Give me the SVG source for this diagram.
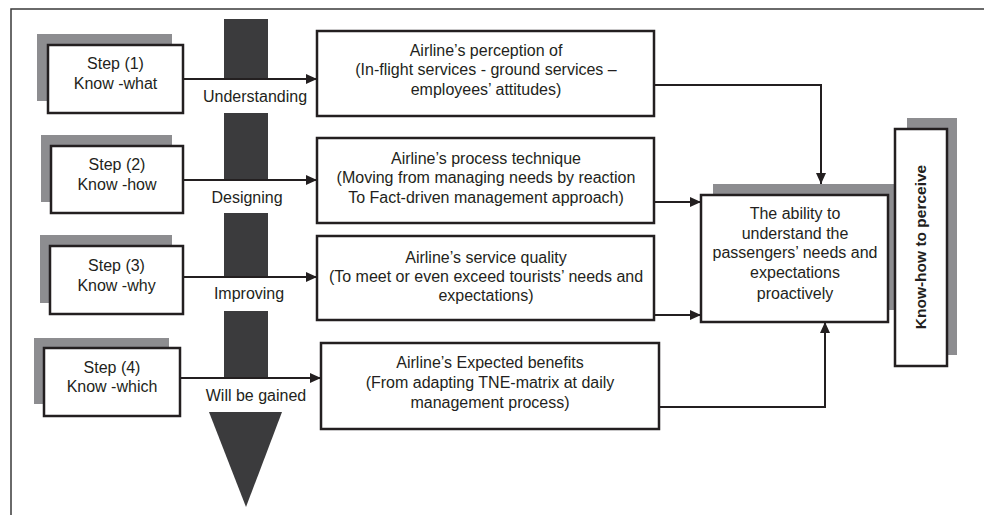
<svg xmlns="http://www.w3.org/2000/svg" width="984" height="515" viewBox="0 0 984 515">
<style>
.box{fill:#fff;stroke:#231f20;stroke-width:2.5}
.sh{fill:#8d8d90}
.bar{fill:#3b3b3d}
.ln{fill:none;stroke:#231f20;stroke-width:2}
text{font-family:"Liberation Sans",Arial,sans-serif;font-size:16px;fill:#231f20;text-anchor:middle}
.b{font-weight:bold;font-size:15.5px}
</style>
<defs>
<marker id="ah" markerUnits="userSpaceOnUse" markerWidth="12" markerHeight="10" refX="11" refY="5" orient="auto">
<path d="M0,0 L11,5 L0,10 Z" fill="#231f20"/>
</marker>
</defs>
<rect width="984" height="515" fill="#fff"/>
<path d="M11,515 V9 H984" fill="none" stroke="#3a3a3a" stroke-width="1.5"/>

<g id="bars">
<rect class="bar" x="224" y="19" width="44" height="60"/>
<rect class="bar" x="224" y="113" width="44" height="67"/>
<rect class="bar" x="224" y="213" width="44" height="64"/>
<rect class="bar" x="224" y="311" width="44" height="67"/>
<polygon class="bar" points="209,412 282,412 246,507"/>
</g>

<g id="step1">
<rect class="sh" x="37" y="34" width="135" height="67"/>
<rect class="box" x="48" y="45" width="135" height="68"/>
<text x="115.5" y="69">Step (1)</text>
<text x="115.5" y="89">Know -what</text>
</g>
<g id="step2">
<rect class="sh" x="41" y="135" width="131" height="67"/>
<rect class="box" x="51" y="146" width="132" height="67"/>
<text x="117" y="170">Step (2)</text>
<text x="117" y="190">Know -how</text>
</g>
<g id="step3">
<rect class="sh" x="40" y="235" width="132" height="68"/>
<rect class="box" x="50" y="246" width="133" height="68"/>
<text x="116.5" y="271">Step (3)</text>
<text x="116.5" y="291">Know -why</text>
</g>
<g id="step4">
<rect class="sh" x="34" y="338" width="135" height="66"/>
<rect class="box" x="44" y="348" width="136" height="68"/>
<text x="112" y="373">Step (4)</text>
<text x="112" y="392">Know -which</text>
</g>

<g id="labels">
<text x="255" y="102">Understanding</text>
<text x="247" y="203">Designing</text>
<text x="249" y="299">Improving</text>
<text x="256" y="401">Will be gained</text>
</g>

<g id="boxA">
<rect class="box" x="317" y="31" width="337" height="85"/>
<text x="486" y="56">Airline’s perception of</text>
<text x="486" y="75">(In-flight services - ground services –</text>
<text x="486" y="95">employees’ attitudes)</text>
</g>
<g id="boxB">
<rect class="box" x="317" y="138" width="337" height="85"/>
<text x="486" y="164">Airline’s process technique</text>
<text x="486" y="183">(Moving from managing needs by reaction</text>
<text x="486" y="203">To Fact-driven management approach)</text>
</g>
<g id="boxC">
<rect class="box" x="317" y="236" width="337" height="84"/>
<text x="486" y="263">Airline’s service quality</text>
<text x="486" y="282">(To meet or even exceed tourists’ needs and</text>
<text x="486" y="301">expectations)</text>
</g>
<g id="boxD">
<rect class="box" x="321" y="343" width="338" height="86"/>
<text x="490" y="368">Airline’s Expected benefits</text>
<text x="490" y="388">(From adapting TNE-matrix at daily</text>
<text x="490" y="408">management process)</text>
</g>

<g id="center">
<rect class="sh" x="713" y="184" width="182" height="126"/>
<rect class="box" x="701" y="195" width="187" height="127"/>
<text x="795" y="219">The ability to</text>
<text x="795" y="239">understand the</text>
<text x="795" y="258">passengers’ needs and</text>
<text x="795" y="278">expectations</text>
<text x="795" y="299">proactively</text>
</g>

<g id="knowhow">
<rect class="sh" x="907" y="118" width="50" height="237"/>
<rect class="box" x="895" y="129" width="52" height="237"/>
<text class="b" transform="translate(926,247) rotate(-90)">Know-how to perceive</text>
</g>

<g id="connectors">
<line class="ln" x1="183" y1="79" x2="317" y2="79" marker-end="url(#ah)"/>
<line class="ln" x1="183" y1="180" x2="317" y2="180" marker-end="url(#ah)"/>
<line class="ln" x1="183" y1="277" x2="317" y2="277" marker-end="url(#ah)"/>
<line class="ln" x1="180" y1="378" x2="321" y2="378" marker-end="url(#ah)"/>
<polyline class="ln" points="654,85 821,85 821,184" marker-end="url(#ah)"/>
<line class="ln" x1="654" y1="202" x2="701" y2="202" marker-end="url(#ah)"/>
<line class="ln" x1="654" y1="315" x2="701" y2="315" marker-end="url(#ah)"/>
<polyline class="ln" points="659,407 825,407 825,322" marker-end="url(#ah)"/>
</g>
</svg>
